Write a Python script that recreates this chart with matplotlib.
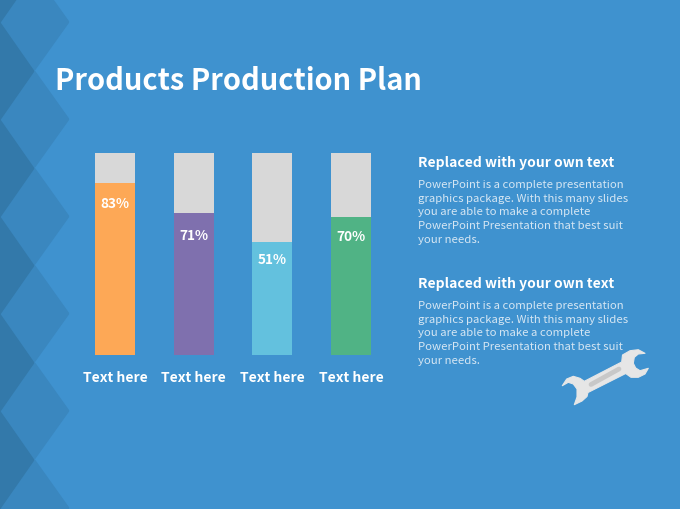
import matplotlib
matplotlib.use("Agg")
import matplotlib.pyplot as plt
from matplotlib.patches import Polygon

plt.rcParams["font.family"] = ["Noto Sans CJK KR", "DejaVu Sans"]

# values (bar fill does not quite follow the printed label)
categories = ["Text here", "Text here", "Text here", "Text here"]
filled = [85.3, 70.0, 56.0, 68.0]
pct_labels = ["83%", "71%", "51%", "70%"]
bar_colors = ["#fda856", "#7f70ae", "#63c1de", "#50b385"]

title = "Products Production Plan"
heading = "Replaced with your own text"
body_lines = [
    "PowerPoint is a complete presentation",
    "graphics package. With this many slides",
    "you are able to make a complete",
    "PowerPoint Presentation that best suit",
    "your needs.",
]

BG = "#3f92cf"
W, H = 680, 510

fig = plt.figure(figsize=(W / 100, H / 100), dpi=100, facecolor=BG)

# full slide layer in pixel coordinates, for the decoration and free text
bg = fig.add_axes([0, 0, 1, 1])
bg.set_xlim(0, W)
bg.set_ylim(H, 0)
bg.axis("off")


def diamond(cx, cy, hw, hh, color):
    pts = [(cx + hw, cy), (cx, cy + hh), (cx - hw, cy), (cx, cy - hh)]
    bg.add_patch(Polygon(pts, closed=True, fc=color, ec=color, lw=2.5, joinstyle="round"))


for k in range(6):
    diamond(34, 23 + 97.2 * k, 33.5, 47, "#3a87bf")
for k in range(7):
    diamond(-1, -25 + 97.2 * k, 33.5, 48, "#3379aa")

# wrench outline
wrench = [(562.3, 386.7), (566.7, 380), (573.3, 377.3), (580, 379.3), (584.3, 382.3),
          (621.7, 363), (622.5, 356), (630, 351.7), (638.3, 350.7), (645, 354.3),
          (638.3, 355), (634.3, 358.3), (633.3, 364.3), (635.7, 369), (640, 371.7),
          (648.3, 369.3), (645, 375), (638.3, 378.3), (631, 378.3), (625.7, 374.5),
          (588, 393.5), (587, 397.5), (582, 402), (574.3, 405.7), (577, 398),
          (577, 390), (573.3, 385), (568.3, 383.3)]
bg.add_patch(Polygon(wrench, closed=True, fc="#e6e6e6", ec="#e6e6e6", lw=0.8, joinstyle="round"))
bg.plot([591, 619], [385.5, 370], color="#c8c8c8", lw=3.4, solid_capstyle="round")

bg.text(55, 81, title, color="white", fontsize=20.9, fontweight="bold", va="center", ha="left")

for y0 in (163, 284):
    bg.text(418, y0, heading, color="white", fontsize=10, fontweight="bold", va="center")
    for i, line in enumerate(body_lines):
        bg.text(418, y0 + 22 + i * 13.7, line, color="#d5e6f3", fontsize=8.2, va="center")

# bar chart, axes placed so that the bars land on the slide positions
ax = fig.add_axes([75.6 / W, 1 - 355.5 / H, 314.8 / W, 201.5 / H])
ax.patch.set_alpha(0)
x = range(len(categories))
rest = [100 - v for v in filled]
ax.bar(x, filled, width=0.51, color=bar_colors)
ax.bar(x, rest, width=0.51, bottom=filled, color="#d8d8d8")
ax.set_xlim(-0.5, 3.5)
ax.set_ylim(0, 100)
ax.set_yticks([])
ax.set_xticks(list(x))
ax.set_xticklabels(categories, color="white", fontsize=10, fontweight="bold")
ax.tick_params(axis="x", length=0, pad=11)
for s in ax.spines.values():
    s.set_visible(False)

label_drop = [20, 22, 17, 19]
for i, v in enumerate(filled):
    ax.annotate(pct_labels[i], (i, v), xytext=(0, -label_drop[i] * 0.72), textcoords="offset points",
                ha="center", va="center", color="white", fontsize=9.8, fontweight="bold")

fig.savefig("out.png", dpi=100, facecolor=BG)
